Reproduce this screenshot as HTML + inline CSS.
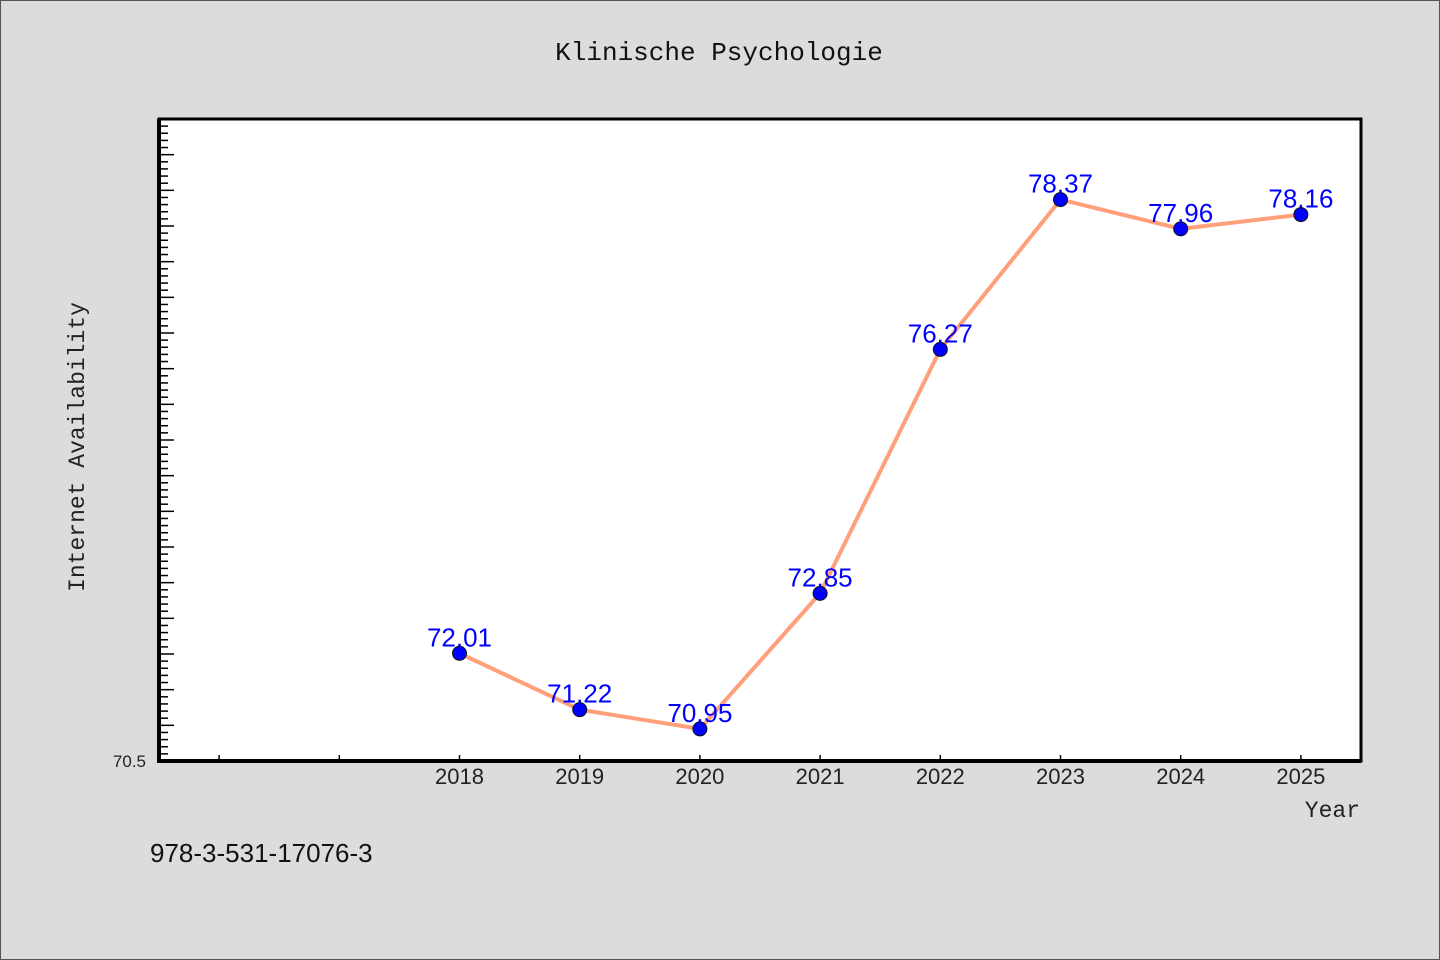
<!DOCTYPE html>
<html><head><meta charset="utf-8"><style>
html,body{margin:0;padding:0;background:#dcdcdc}
svg{display:block}
</style></head><body>
<svg width="1440" height="960" xmlns="http://www.w3.org/2000/svg">
<rect x="0.5" y="0.5" width="1439" height="959" fill="#dcdcdc" stroke="#555"/>
<text x="719" y="60" text-anchor="middle" font-family="Liberation Mono, monospace" font-size="26" fill="#111">Klinische Psychologie</text>
<rect x="159" y="119" width="1202" height="642" fill="#fff" stroke="#000" stroke-width="3"/>
<g id="yticks"></g>
<g id="xticks"></g>
<line x1="159" y1="119" x2="159" y2="761" stroke="#000" stroke-width="4"/>
<line x1="157" y1="761" x2="1361" y2="761" stroke="#000" stroke-width="4"/>
<text x="146" y="767" text-anchor="end" font-family="Liberation Sans, sans-serif" font-size="17" fill="#222">70.5</text>
<text transform="translate(84,447) rotate(-90)" text-anchor="middle" font-family="Liberation Mono, monospace" font-size="23" fill="#222">Internet Availability</text>
<text x="1360" y="817" text-anchor="end" font-family="Liberation Mono, monospace" font-size="23" fill="#222">Year</text>
<text x="150" y="862" font-family="Liberation Sans, sans-serif" font-size="26" fill="#111">978-3-531-17076-3</text>
<g id="series"></g>
</svg>
<script>
const years = [2018, 2019, 2020, 2021, 2022, 2023, 2024, 2025];
const values = [72.01, 71.22, 70.95, 72.85, 76.27, 78.37, 77.96, 78.16];
const labels = ["72.01", "71.22", "70.95", "72.85", "76.27", "78.37", "77.96", "78.16"];
const xTickYears = [2016, 2017, 2018, 2019, 2020, 2021, 2022, 2023, 2024, 2025];
const yMin = 70.5, yMax = 79.5, xMin = 2015.5, xMax = 2025.5;
const L = 159, R = 1361, T = 119, B = 761;
function xs(v){return L + (v - xMin) / (xMax - xMin) * (R - L);}
function ys(v){return B - (v - yMin) / (yMax - yMin) * (B - T);}
const NS = "http://www.w3.org/2000/svg";
function mk(tag, attrs, parent){const e = document.createElementNS(NS, tag); for (const k in attrs) e.setAttribute(k, attrs[k]); parent.appendChild(e); return e;}
const yt = document.getElementById('yticks');
for (let i = 1; i < 90; i++) {
  const v = yMin + i * 0.1; const y = ys(v); const major = i % 5 === 0;
  const t = mk('line', {x1: L, y1: y, x2: L + (major ? 15 : 9), y2: y, stroke: '#000', 'stroke-width': 1.5}, yt);
  
  
}
const xt = document.getElementById('xticks');
xTickYears.forEach(yr => {
  const x = xs(yr);
  const t = mk('line', {x1: x, y1: B, x2: x, y2: B - 6, stroke: '#000', 'stroke-width': 1.5}, xt);
  
  
  if (years.includes(yr)) {
    const tx = mk('text', {x: x, y: B + 23, 'text-anchor': 'middle', 'font-family': 'Liberation Sans, sans-serif', 'font-size': 22, fill: '#222'}, xt);
    tx.textContent = yr;
    
    
  }
});
const s = document.getElementById('series');
const pl = mk('polyline', {points: years.map((y, i) => xs(y) + ',' + ys(values[i])).join(' '), fill: 'none', stroke: '#FFA07A', 'stroke-width': 4, 'stroke-linejoin': 'round'}, s);


years.forEach((yr, i) => {
  const c = mk('circle', {cx: xs(yr), cy: ys(values[i]), r: 7, fill: '#0000ff', stroke: '#111', 'stroke-width': 1}, s);
  
  
  const t = mk('text', {x: xs(yr), y: ys(values[i]) - 7, 'text-anchor': 'middle', 'font-family': 'Liberation Sans, sans-serif', 'font-size': 26, fill: '#0000ff'}, s);
  t.textContent = labels[i];
  
  
});
</script>
</body></html>
